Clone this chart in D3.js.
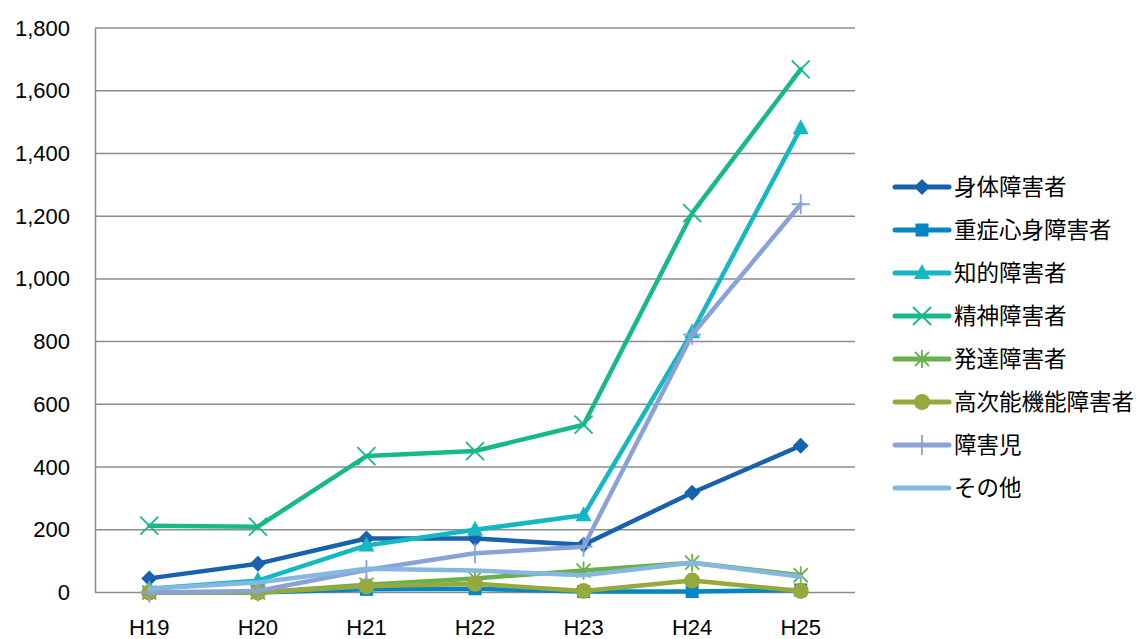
<!DOCTYPE html>
<html>
<head>
<meta charset="utf-8">
<script src="https://cdn.jsdelivr.net/npm/d3@7"></script>
<style>
  html, body { margin: 0; padding: 0; background: #fff; }
  svg { display: block; font-family: "Liberation Sans", Arial, "Noto Sans CJK JP", sans-serif; }
</style>
</head>
<body>
<svg id="chart" width="1144" height="639"></svg>
<script>
// Fiscal years (Heisei)
const years = ["H19", "H20", "H21", "H22", "H23", "H24", "H25"];
const yTicks = [0, 200, 400, 600, 800, 1000, 1200, 1400, 1600, 1800];

// Counts per category
const shintai   = [45, 92, 172, 172, 152, 318, 468];   // 身体障害者
const juusho    = [0, 0, 10, 12, 3, 3, 8];             // 重症心身障害者
const chiteki   = [12, 38, 150, 200, 246, 830, 1480];  // 知的障害者
const seishin   = [213, 210, 435, 451, 535, 1210, 1668]; // 精神障害者
const hattatsu  = [0, 0, 25, 45, 70, 95, 55];          // 発達障害者
const koujinou  = [0, 0, 20, 28, 5, 38, 5];            // 高次能機能障害者
const shougaiji = [0, 5, 72, 125, 146, 822, 1238];     // 障害児
const sonota    = [12, 32, 76, 70, 55, 95, 50];        // その他

const seriesNames = ["身体障害者", "重症心身障害者", "知的障害者", "精神障害者", "発達障害者", "高次能機能障害者", "障害児", "その他"];
const seriesValues = [shintai, juusho, chiteki, seishin, hattatsu, koujinou, shougaiji, sonota];
const seriesColors = ["#1861AC", "#0586C4", "#13B8C2", "#17B98A", "#6BB04E", "#95A93E", "#8AA2D6", "#85B7E1"];
const seriesMarkers = ["diamond", "square", "triangle", "x", "asterisk", "circle", "plus", "none"];

const svg = d3.select("#chart");
const plot = { left: 95, right: 855, top: 28, bottom: 592.5 };

const x = d3.scaleBand().domain(years).range([plot.left, plot.right]);
const y = d3.scaleLinear().domain([0, 1800]).range([plot.bottom, plot.top]);
const cx = d => x(d) + x.bandwidth() / 2;

// Horizontal gridlines
svg.append("g")
  .selectAll("line")
  .data(yTicks)
  .join("line")
  .attr("x1", plot.left).attr("x2", plot.right)
  .attr("y1", d => y(d)).attr("y2", d => y(d))
  .attr("stroke", "#8c8c8c").attr("stroke-width", 1.5);

// Left axis
const yAxis = d3.axisLeft(y).tickValues(yTicks).tickSize(0).tickPadding(25)
  .tickFormat(d3.format(","));
const gy = svg.append("g").attr("transform", `translate(${plot.left},0)`).call(yAxis);
gy.select(".domain").attr("stroke", "#8c8c8c").attr("stroke-width", 1.5);
gy.selectAll("text").attr("font-size", 22).attr("fill", "#000")
  .attr("font-family", "'Liberation Sans', Arial, sans-serif");

// Bottom axis labels
const xAxis = d3.axisBottom(x).tickSize(0).tickPadding(27);
const gx = svg.append("g").attr("transform", `translate(0,${plot.bottom})`).call(xAxis);
gx.select(".domain").remove();
gx.selectAll("text").attr("font-size", 22).attr("fill", "#000")
  .attr("font-family", "'Liberation Sans', Arial, sans-serif");

// Marker drawing
function drawMarker(g, type, color) {
  switch (type) {
    case "diamond":
      g.append("path").attr("d", "M0,-8 L8,0 L0,8 L-8,0 Z").attr("fill", color); break;
    case "square":
      g.append("rect").attr("x", -6.5).attr("y", -6.5).attr("width", 13).attr("height", 13).attr("fill", color); break;
    case "triangle":
      g.append("path").attr("d", "M0,-9 L8,6 L-8,6 Z").attr("fill", color); break;
    case "x":
      g.append("path").attr("d", "M-9,-9 L9,9 M-9,9 L9,-9").attr("stroke", color).attr("stroke-width", 1.8).attr("fill", "none"); break;
    case "asterisk":
      g.append("path").attr("d", "M-7,-7 L7,7 M-7,7 L7,-7 M0,-9 L0,9").attr("stroke", color).attr("stroke-width", 1.8).attr("fill", "none"); break;
    case "circle":
      g.append("circle").attr("r", 8).attr("fill", color); break;
    case "plus":
      g.append("path").attr("d", "M-9,0 L9,0 M0,-10 L0,10").attr("stroke", color).attr("stroke-width", 1.8).attr("fill", "none"); break;
  }
}

const line = d3.line().x((d, i) => cx(years[i])).y(d => y(d));

seriesValues.forEach((vals, si) => {
  const g = svg.append("g");
  g.append("path").datum(vals)
    .attr("d", line)
    .attr("fill", "none")
    .attr("stroke", seriesColors[si])
    .attr("stroke-width", 4.5)
    .attr("stroke-linejoin", "round")
    .attr("stroke-linecap", "round");
  vals.forEach((v, i) => {
    const mg = g.append("g").attr("transform", `translate(${cx(years[i])},${y(v)})`);
    drawMarker(mg, seriesMarkers[si], seriesColors[si]);
  });
});

// Legend
const legend = svg.append("g").attr("transform", "translate(895,187)");
seriesNames.forEach((name, i) => {
  const row = legend.append("g").attr("transform", `translate(0,${i * 43})`);
  row.append("line").attr("x1", 0).attr("x2", 54).attr("y1", 0).attr("y2", 0)
    .attr("stroke", seriesColors[i]).attr("stroke-width", 5).attr("stroke-linecap", "round");
  const mg = row.append("g").attr("transform", "translate(27,0)");
  drawMarker(mg, seriesMarkers[i], seriesColors[i]);
  row.append("text").attr("x", 59).attr("y", 0).attr("dy", "0.36em")
    .attr("font-size", 22.5).attr("fill", "#000")
    .attr("font-family", "'Noto Sans CJK JP', sans-serif")
    .text(name);
});
</script>
</body>
</html>
